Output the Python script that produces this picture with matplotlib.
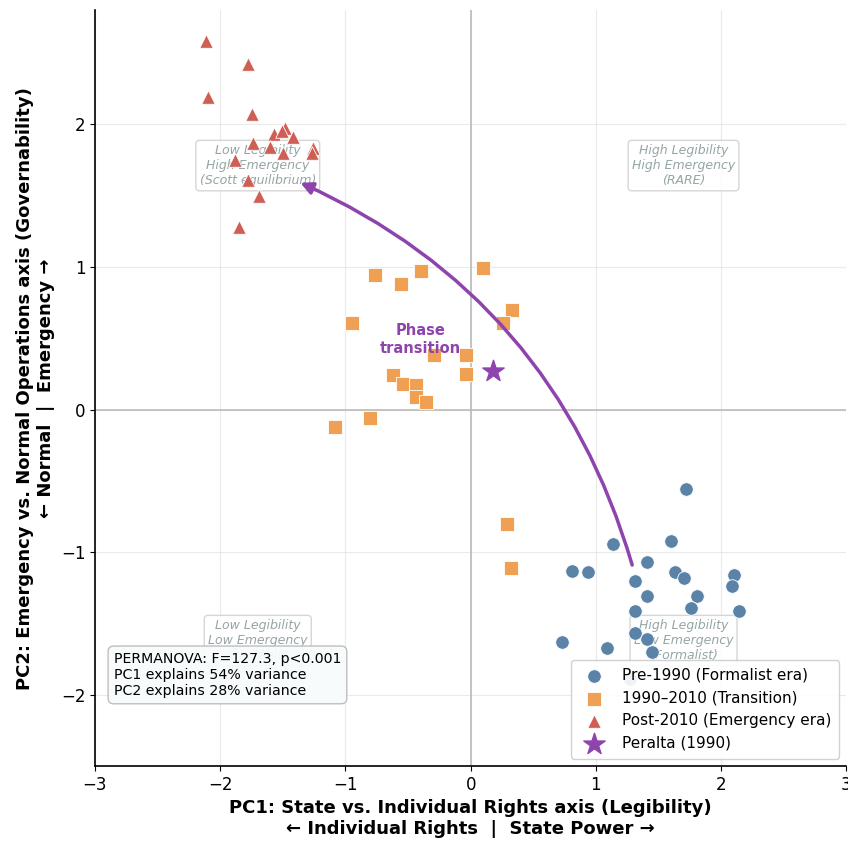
import matplotlib
matplotlib.use('Agg')
import matplotlib.pyplot as plt

# Pre-1990 (Formalist era)
pre_x = [1.72, 1.14, 1.60, 1.41, 0.81, 0.94, 1.63, 1.70, 1.31, 2.10, 2.09,
         1.41, 1.81, 1.31, 1.76, 2.14, 1.31, 1.41, 1.45, 0.73, 1.09, 1.27]
pre_y = [-0.56, -0.94, -0.92, -1.07, -1.13, -1.14, -1.14, -1.18, -1.20, -1.16, -1.24,
         -1.31, -1.31, -1.41, -1.39, -1.41, -1.57, -1.61, -1.70, -1.63, -1.67, -1.89]

# 1990-2010 (Transition)
tr_x = [-0.76, -0.40, -0.56, 0.10, 0.33, 0.26, -0.95, -0.29, -0.04, -0.04,
        -0.62, -0.54, -0.44, -0.44, -0.36, -0.80, -1.08, 0.29, 0.32]
tr_y = [0.94, 0.97, 0.88, 0.99, 0.70, 0.61, 0.61, 0.38, 0.38, 0.25,
        0.24, 0.18, 0.17, 0.09, 0.05, -0.06, -0.12, -0.80, -1.11]

# Post-2010 (Emergency era)
post_x = [-2.11, -1.78, -2.10, -1.75, -1.48, -1.57, -1.51, -1.42, -1.74,
          -1.60, -1.50, -1.26, -1.27, -1.88, -1.78, -1.69, -1.85]
post_y = [2.58, 2.42, 2.19, 2.07, 1.97, 1.93, 1.95, 1.91, 1.87,
          1.84, 1.80, 1.83, 1.80, 1.75, 1.61, 1.50, 1.28]

peralta = (0.18, 0.27)
arrow_start = (1.29, -1.09)
arrow_end = (-1.36, 1.59)

quadrants = [
    (-1.70, 1.71, 'Low Legibility\nHigh Emergency\n(Scott equilibrium)'),
    (1.70, 1.71, 'High Legibility\nHigh Emergency\n(RARE)'),
    (-1.70, -1.62, 'Low Legibility\nLow Emergency\n(Unstable)'),
    (1.70, -1.62, 'High Legibility\nLow Emergency\n(Formalist)'),
]

fig = plt.figure(figsize=(8.48, 8.41), dpi=100)
ax = fig.add_axes([0.112, 0.089, 0.886, 0.899])

ax.grid(True, color='#dddddd', alpha=0.6, lw=0.8)
ax.set_axisbelow(True)
ax.axhline(0, color='#bbbbbb', lw=1.2, zorder=1)
ax.axvline(0, color='#bbbbbb', lw=1.2, zorder=1)

for x, y, t in quadrants:
    ax.text(x, y, t, ha='center', va='center', fontsize=9, style='italic',
            color='#95a5a6', zorder=2,
            bbox=dict(boxstyle='round,pad=0.3', facecolor='white',
                      edgecolor='#cccccc', alpha=0.8))

ax.scatter(pre_x, pre_y, s=95, c='#5b83a8', marker='o', edgecolors='white',
           linewidths=0.6, zorder=3, label='Pre-1990 (Formalist era)')
ax.scatter(tr_x, tr_y, s=95, c='#efa052', marker='s', edgecolors='white',
           linewidths=0.6, zorder=3, label='1990–2010 (Transition)')
ax.scatter(post_x, post_y, s=95, c='#cf5f55', marker='^', edgecolors='white',
           linewidths=0.6, zorder=3, label='Post-2010 (Emergency era)')
ax.scatter([peralta[0]], [peralta[1]], s=260, c='#8E44AD', marker='*',
           zorder=4, label='Peralta (1990)')

ax.annotate('', xy=arrow_end, xytext=arrow_start,
            arrowprops=dict(arrowstyle='-|>', color='#8E44AD', lw=2.5,
                            mutation_scale=18, shrinkA=0, shrinkB=0,
                            connectionstyle='arc3,rad=0.23'), zorder=5)
ax.text(-0.40, 0.49, 'Phase\ntransition', ha='center', va='center',
        fontsize=10.5, fontweight='bold', color='#8E44AD', zorder=5)

ax.text(0.025, 0.09, 'PERMANOVA: F=127.3, p<0.001\nPC1 explains 54% variance\nPC2 explains 28% variance',
        transform=ax.transAxes, fontsize=10.2, va='bottom', ha='left', zorder=6,
        bbox=dict(boxstyle='round,pad=0.4', facecolor='#f7fbfc',
                  edgecolor='#bbbbbb', alpha=0.95))

ax.legend(loc='lower right', fontsize=11, framealpha=0.9, borderpad=0.5)

ax.set_xlim(-3, 3)
ax.set_ylim(-2.5, 2.8)
ax.set_xticks([-3, -2, -1, 0, 1, 2, 3])
ax.set_yticks([-2, -1, 0, 1, 2])
ax.tick_params(labelsize=12)
ax.spines['top'].set_visible(False)
ax.spines['right'].set_visible(False)
ax.spines['left'].set_linewidth(1.2)
ax.spines['bottom'].set_linewidth(1.2)

ax.set_xlabel('PC1: State vs. Individual Rights axis (Legibility)\n← Individual Rights  |  State Power →',
              fontsize=13, fontweight='bold')
ax.set_ylabel('PC2: Emergency vs. Normal Operations axis (Governability)\n← Normal  |  Emergency →',
              fontsize=13, fontweight='bold')

fig.savefig('out.png', dpi=100)
